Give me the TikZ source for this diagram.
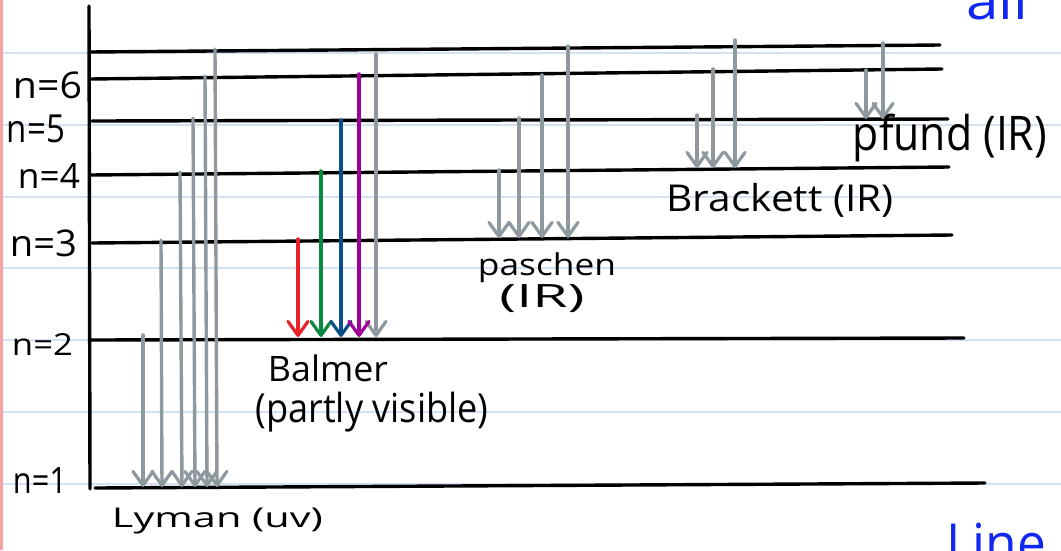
\documentclass[tikz,border=0pt]{standalone}
\usepackage{fontspec}
\setmainfont{Open Sans}
\usepackage{graphicx}
\usetikzlibrary{arrows.meta}
\definecolor{rule}{HTML}{D2E2F2}
\definecolor{margin}{HTML}{F5A3A3}
\definecolor{arrowgray}{HTML}{8E999F}
\definecolor{hred}{HTML}{E8202A}
\definecolor{hgreen}{HTML}{0A8A40}
\definecolor{hblue}{HTML}{0B4F8A}
\definecolor{hmagenta}{HTML}{A0009A}
\definecolor{inkblue}{HTML}{1028F0}
\tikzset{
  level/.style={line width=3.4pt, line cap=round, black},
  trans/.style={line width=3.4pt, line cap=round,
    -{Straight Barb[length=14pt,width=20pt,line width=3.2pt,round]}},
  txt/.style={inner sep=0pt, outer sep=0pt},
}
% fixed-size handwriting-style label
\newcommand{\hwlabel}[3]{\resizebox*{#1pt}{#2pt}{#3}}
\begin{document}
\begin{tikzpicture}[x=1pt, y=-1pt]
\useasboundingbox (0,0) rectangle (1061,550);
\clip (0,0) rectangle (1061,550);
\fill[white] (0,0) rectangle (1061,550);

% ruled paper
\foreach \y in {53,125,197,268,340,412,484}
  \draw[rule, line width=1.8pt] (0,\y) -- (1061,\y);
\draw[margin, line width=3.5pt] (1.5,0) -- (1.5,550);

% energy axis
\coordinate (axtop) at (89,6);
\coordinate (axbot) at (90,489);
\draw[level] (axtop) -- (axbot);

% energy levels
\foreach \n/\xa/\ya/\xb/\yb in {7/90/52/940/45, 6/90/79/942/69, 5/92/121/948/119,
    4/90/175/949/167, 3/92/243/952/235, 2/90/340/964/338, 1/95/488/985/483}{
  \coordinate (L\n a) at (\xa,\ya);
  \coordinate (L\n b) at (\xb,\yb);
  \draw[level] (L\n a) -- (L\n b);
}

% level labels
\node[txt] (n6) at (47.5,85.5) {\hwlabel{69}{27}{n=6}};
\node[txt] (n5) at (36,129) {\hwlabel{58}{28}{n=5}};
\node[txt] (n4) at (49,175.5) {\hwlabel{62}{25}{n=4}};
\node[txt] (n3) at (43.5,243.5) {\hwlabel{67}{27}{n=3}};
\node[txt] (n2) at (42.5,344) {\hwlabel{61}{22}{n=2}};
\node[txt] (n1) at (40,480) {\hwlabel{54}{26}{n=1}};

% gray transitions: name / x top / y top / x tip / y tip
\foreach \name/\xa/\ya/\xb/\yb in {
    ly2/143/335/143/487, ly3/161/240/162/487, ly4/180/172/182/487,
    ly5/193/118/195/487, ly6/205/76/207/487, ly7/215/49/217/487,
    ba7/376/54/376/337,
    pa4/499/170/499/238, pa5/519/118/519/238, pa6/542/75/542/238, pa7/568/46/568/238,
    br5/697/115/697/168, br6/713/69/713/168, br7/735/40/735/168,
    pf6/866/70/866/119, pf7/883/43/883/119}{
  \coordinate (\name s) at (\xa,\ya);
  \coordinate (\name e) at (\xb,\yb);
  \draw[trans, arrowgray] (\name s) -- (\name e);
}

% visible Balmer lines
\foreach \name/\x/\ya/\col in {ba3/298/239/hred, ba4/321/171/hgreen,
    ba5/341/120/hblue, ba6/359/74/hmagenta}{
  \coordinate (\name s) at (\x,\ya);
  \coordinate (\name e) at (\x,337);
  \draw[trans, \col] (\name s) -- (\name e);
}

% series labels
\node[txt] (lyman) at (217.5,521) {\hwlabel{211}{26}{Lyman (uv)}};
\node[txt] (balmer) at (328,368) {\hwlabel{120}{27}{Balmer}};
\node[txt] (balmer2) at (372,412) {\hwlabel{233}{40}{(partly visible)}};
\node[txt] (paschen) at (547,268) {\hwlabel{138}{30}{paschen}};
\node[txt] (paschen2) at (542,299) {\hwlabel{85}{28}{(IR)}};
\node[txt] (brackett) at (780,200) {\hwlabel{227}{34}{Brackett (IR)}};
\node[txt] (pfund) at (950,138) {\hwlabel{194}{48}{pfund (IR)}};

% margin notes running off the page
\node[txt, anchor=base west, text=inkblue] (noteall) at (966,19) {\hwlabel{62}{40}{all}};
\node[txt, anchor=north west, text=inkblue] (noteline) at (946,523) {\hwlabel{100}{40}{Line}};
\end{tikzpicture}
\end{document}
